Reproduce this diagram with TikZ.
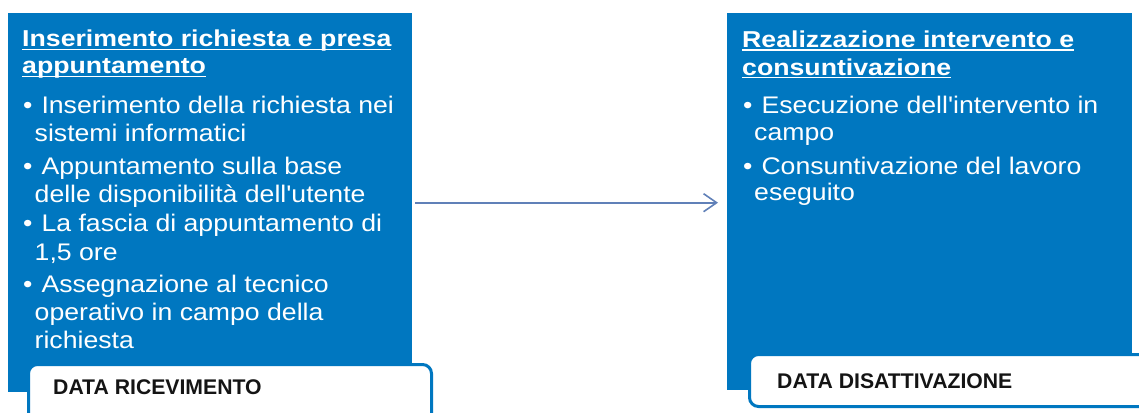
\documentclass[tikz,border=0pt]{standalone}
\usepackage{fontspec}
\setmainfont{Liberation Sans}
\newfontfamily\stretchfont{Liberation Sans}[FakeStretch=1.16]
\newfontfamily\bodyfont{Liberation Sans}[FakeStretch=1.11]
\usetikzlibrary{arrows.meta}
\definecolor{boxblue}{RGB}{0,119,192}
\definecolor{arrowblue}{RGB}{96,128,184}
\definecolor{labelink}{RGB}{20,20,20}
\newcommand\myul[1]{{\setbox0\hbox{#1}\rlap{\rule[-3pt]{\wd0}{1.5pt}}\box0}}
\newcommand\bul{•\hspace{9pt}}
\tikzset{
  bluebox/.style={fill=boxblue, draw=none, inner sep=0pt, anchor=north west},
  labelbox/.style={fill=white, draw=boxblue, line width=3pt, rounded corners=9pt, inner sep=0pt, anchor=north west},
  titletext/.style={text=white, font=\stretchfont\bfseries\fontsize{23}{27}\selectfont, inner sep=0pt, anchor=base west},
  bodytext/.style={text=white, font=\bodyfont\fontsize{24}{28}\selectfont, inner sep=0pt, anchor=base west},
  labeltext/.style={text=labelink, font=\bfseries\fontsize{21.2}{25}\selectfont, inner sep=0pt, anchor=base west},
  conn/.style={draw=arrowblue, line width=1.6pt, -{Straight Barb[length=13pt,width=18pt]}},
}
\begin{document}
\begin{tikzpicture}[x=1pt,y=1pt]
\useasboundingbox (0,0) rectangle (1139,-412);
\clip (0,0) rectangle (1139,-412);
\fill[white] (0,0) rectangle (1139,-412);

% blue boxes
\node[bluebox, minimum width=404pt, minimum height=379pt] (boxL) at (8,-13) {};
\node[bluebox, minimum width=405pt, minimum height=377pt] (boxR) at (727,-13) {};

% label boxes
\node[labelbox, minimum width=403pt, minimum height=62pt] (labL) at (27,-363) {};
\node[labelbox, minimum width=420pt, minimum height=52pt] (labR) at (748,-353) {};

% connector
\draw[conn, shorten <=3pt, shorten >=9pt] (boxL.east) -- (boxL.east -| boxR.west);

% left texts
\node[titletext] (tl1) at (22,-47) {\myul{Inserimento richiesta e presa}};
\node[titletext] (tl2) at (22,-74) {\myul{appuntamento}};
\node[bodytext] (l1) at (23,-113) {\bul Inserimento della richiesta nei};
\node[bodytext] (l2) at (34.5,-141) {sistemi informatici};
\node[bodytext] (l3) at (23,-174) {\bul Appuntamento sulla base};
\node[bodytext] (l4) at (34.5,-202) {delle disponibilità dell'utente};
\node[bodytext] (l5) at (23,-231) {\bul La fascia di appuntamento di};
\node[bodytext] (l6) at (34.5,-260) {1,5 ore};
\node[bodytext] (l7) at (23,-292) {\bul Assegnazione al tecnico};
\node[bodytext] (l8) at (34.5,-320) {operativo in campo della};
\node[bodytext] (l9) at (34.5,-348) {richiesta};
\node[labeltext] (dl) at (53,-394) {DATA RICEVIMENTO};

% right texts
\node[titletext] (tr1) at (742,-48) {\myul{Realizzazione intervento e}};
\node[titletext] (tr2) at (742,-75) {\myul{consuntivazione}};
\node[bodytext] (r1) at (743,-113) {\bul Esecuzione dell'intervento in};
\node[bodytext] (r2) at (754,-140) {campo};
\node[bodytext] (r3) at (743,-174) {\bul Consuntivazione del lavoro};
\node[bodytext] (r4) at (754,-200) {eseguito};
\node[labeltext] (dr) at (777,-388) {DATA DISATTIVAZIONE};
\end{tikzpicture}
\end{document}
